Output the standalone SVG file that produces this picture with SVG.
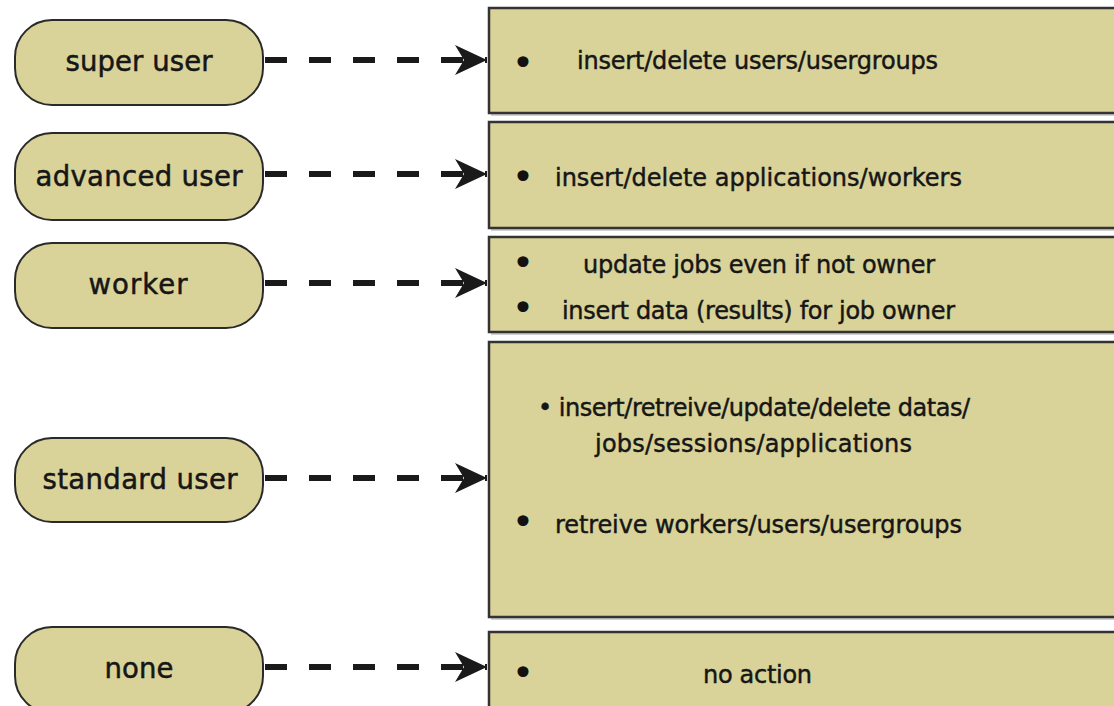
<svg xmlns="http://www.w3.org/2000/svg" width="1114" height="706" viewBox="0 0 1114 706">
<style>
.pill{fill:#D9D399;stroke:#2a2a2a;stroke-width:2}
.box{fill:#D9D399;stroke:#333;stroke-width:2.5}
.sh{fill:#9a9a9a;opacity:0.45}
.lt{font-family:"DejaVu Sans",sans-serif;font-size:27.5px;fill:#161616;stroke:#161616;stroke-width:0.5;text-anchor:middle}
.rt{font-family:"DejaVu Sans",sans-serif;font-size:24px;fill:#161616;stroke:#161616;stroke-width:0.45}
.b{font-family:"DejaVu Sans",sans-serif;font-size:38px;fill:#111;text-anchor:middle}
.con{stroke:#1a1a1a;stroke-width:6;stroke-dasharray:22 22;fill:none;marker-end:url(#ah)}
</style>
<defs>
<marker id="ah" markerUnits="userSpaceOnUse" markerWidth="34" markerHeight="32" refX="32" refY="15" orient="auto">
<path d="M0,0 L32,15 L0,30 L9,15 Z" fill="#1a1a1a"/>
</marker>
</defs>
<rect width="1114" height="706" fill="#fff"/>
<g id="connectors">
<line class="con" x1="265" y1="60" x2="487" y2="60"/>
<line class="con" x1="265" y1="174" x2="487" y2="174"/>
<line class="con" x1="265" y1="283" x2="487" y2="283"/>
<line class="con" x1="265" y1="478" x2="487" y2="478"/>
<line class="con" x1="265" y1="667" x2="487" y2="667"/>
</g>
<g id="n-super"><rect class="pill" x="15" y="20" width="248" height="85" rx="37"/><text class="lt" x="139" y="71" textLength="147">super user</text></g>
<g id="n-advanced"><rect class="pill" x="15" y="133" width="248" height="87" rx="37"/><text class="lt" x="139" y="186" textLength="207">advanced user</text></g>
<g id="n-worker"><rect class="pill" x="15" y="243" width="248" height="85" rx="37"/><text class="lt" x="138" y="294" textLength="99">worker</text></g>
<g id="n-standard"><rect class="pill" x="15" y="438" width="248" height="84" rx="37"/><text class="lt" x="140" y="489" textLength="195">standard user</text></g>
<g id="n-none"><rect class="pill" x="15" y="627" width="248" height="86" rx="37"/><text class="lt" x="139" y="678" textLength="69">none</text></g>
<g id="b-super">
<rect class="sh" x="491" y="10" width="640" height="106"/>
<rect class="box" x="489" y="8" width="640" height="105"/>
<text class="b" x="523" y="76">•</text>
<text class="rt" x="577" y="69" textLength="361">insert/delete users/usergroups</text>
</g>
<g id="b-advanced">
<rect class="sh" x="491" y="124" width="640" height="107"/>
<rect class="box" x="489" y="122" width="640" height="106"/>
<text class="b" x="523" y="190">•</text>
<text class="rt" x="555" y="186" textLength="407">insert/delete applications/workers</text>
</g>
<g id="b-worker">
<rect class="sh" x="491" y="239" width="640" height="96"/>
<rect class="box" x="489" y="237" width="640" height="95"/>
<text class="b" x="523" y="276">•</text>
<text class="rt" x="583" y="273" textLength="352">update jobs even if not owner</text>
<text class="b" x="523" y="321">•</text>
<text class="rt" x="562" y="319" textLength="393">insert data (results) for job owner</text>
</g>
<g id="b-standard">
<rect class="sh" x="491" y="344" width="640" height="276"/>
<rect class="box" x="489" y="342" width="640" height="275"/>
<text class="rt" x="538" y="416" textLength="432">• insert/retreive/update/delete datas/</text>
<text class="rt" x="595" y="452" textLength="317">jobs/sessions/applications</text>
<text class="b" x="523" y="535">•</text>
<text class="rt" x="555" y="533" textLength="407">retreive workers/users/usergroups</text>
</g>
<g id="b-none">
<rect class="sh" x="491" y="634" width="640" height="90"/>
<rect class="box" x="489" y="632" width="640" height="90"/>
<text class="b" x="523" y="686">•</text>
<text class="rt" x="703" y="683" textLength="109">no action</text>
</g>
</svg>
